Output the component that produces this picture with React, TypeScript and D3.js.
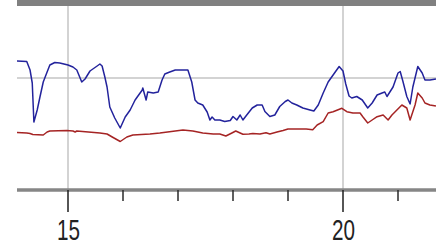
import * as d3 from 'd3';

// Hours on the x axis, readings in arbitrary units (0 = axis line)
const blueTimes = [
  14.07, 14.25, 14.31, 14.35, 14.38, 14.44, 14.49, 14.55, 14.62, 14.67, 14.76, 14.85,
  15.0, 15.09, 15.16, 15.25, 15.31, 15.4, 15.53, 15.58, 15.62, 15.67, 15.71, 15.76,
  15.85, 15.95, 16.04, 16.13, 16.22, 16.35, 16.36, 16.42, 16.45, 16.55, 16.64, 16.71,
  16.76, 16.85, 16.95, 17.18, 17.25, 17.31, 17.36, 17.45, 17.53, 17.58, 17.62, 17.67,
  17.76, 17.85, 17.95, 18.0, 18.07, 18.13, 18.18, 18.25, 18.35, 18.44, 18.53, 18.58,
  18.67, 18.76, 18.85, 18.95, 19.0, 19.07, 19.16, 19.27, 19.4, 19.47, 19.55, 19.64,
  19.73, 19.82, 19.93, 20.0, 20.05, 20.11, 20.16, 20.25, 20.35, 20.45, 20.53, 20.62,
  20.71, 20.76, 20.8, 20.91, 21.0, 21.04, 21.09, 21.16, 21.22, 21.27, 21.36, 21.44,
  21.49, 21.58, 21.69,
];
const blueValues = [
  129, 128.5, 120, 107, 68, 80, 93, 108, 118, 125, 127.5, 127,
  125, 123, 120, 108, 111, 119, 124, 126, 124, 113, 103, 83,
  72, 62, 73, 80, 90, 100, 102, 90, 98, 97, 98, 110,
  116, 118, 120, 120, 108, 90, 87, 85, 78, 70, 73, 70,
  70, 68.5, 69.5, 73.5, 70, 75, 70, 75, 82, 85, 85, 78.5,
  73.5, 75, 83.5, 88.5, 90, 87, 85, 82, 80, 79, 85, 97,
  108, 115, 123.5, 119, 106, 94, 92, 93.5, 90, 82, 87, 95,
  97, 98, 93.5, 103, 117, 118.5, 108.5, 93.5, 86, 103, 123.5, 117,
  110, 110, 111,
];

const redTimes = [
  14.07, 14.25, 14.31, 14.36, 14.55, 14.62, 14.67, 14.98, 15.09, 15.13, 15.16, 15.58,
  15.71, 15.82, 15.95, 16.07, 16.18, 16.49, 16.67, 17.09, 17.27, 17.45, 17.64, 17.76,
  17.87, 17.98, 18.05, 18.18, 18.29, 18.36, 18.49, 18.6, 18.67, 18.8, 18.91, 19.0,
  19.15, 19.33, 19.45, 19.53, 19.64, 19.73, 19.82, 19.98, 20.07, 20.18, 20.31, 20.36,
  20.45, 20.53, 20.62, 20.73, 20.82, 20.89, 20.98, 21.07, 21.16, 21.22, 21.31, 21.36,
  21.44, 21.49, 21.58, 21.69,
];
const redValues = [
  57.5, 57, 56.5, 55.5, 55, 58, 59, 59.5, 59, 58, 59, 57,
  56, 52.5, 48.5, 53, 55, 56, 57, 60, 59, 57, 56, 56,
  54, 57, 59, 55.7, 56, 56.5, 56, 57.3, 56, 58, 59.5, 61,
  61, 61, 60.3, 65, 68.3, 77, 78.3, 81.7, 78.3, 77, 77, 73.3,
  67, 70, 73.3, 75, 70, 75, 80, 85, 82, 70, 85, 97,
  92, 87, 85, 84,
];

const majorTicks = [15, 20];
const minorTicks = [16, 17, 18, 19, 21];
const gridValue = 112;

const W = 436;
const H = 242;

export default function App() {
  const left = 17;
  const top = 6;
  const axisY = 190;

  const x = d3.scaleLinear().domain([15, 20]).range([68, 343]);
  const y = d3.scaleLinear().domain([0, 184]).range([axisY, top]);

  const line = d3.line<[number, number]>()
    .x(d => x(d[0]))
    .y(d => y(d[1]));

  const blue = blueTimes.map((t, i) => [t, blueValues[i]] as [number, number]);
  const red = redTimes.map((t, i) => [t, redValues[i]] as [number, number]);

  return (
    <svg width={W} height={H} style={{ position: 'absolute', left: 0, top: 0, background: '#fff' }}>
      <defs>
        <clipPath id="plot">
          <rect x={left} y={top} width={W - left} height={axisY - top} />
        </clipPath>
      </defs>

      {/* top border bar */}
      <rect x={left} y={0} width={W - left} height={top} fill="#808080" />

      {/* grid */}
      {majorTicks.map(t => (
        <line key={'g' + t} x1={x(t)} x2={x(t)} y1={top} y2={axisY}
          stroke="#c4c4c4" strokeWidth={1.5} />
      ))}
      <line x1={left} x2={W} y1={y(gridValue)} y2={y(gridValue)} stroke="#c4c4c4" strokeWidth={1.5} />

      {/* series */}
      <g clipPath="url(#plot)">
        <path d={line(red) || ''} fill="none" stroke="#a52424" strokeWidth={1.5} strokeLinejoin="round" />
        <path d={line(blue) || ''} fill="none" stroke="#23239c" strokeWidth={1.5} strokeLinejoin="round" />
      </g>

      {/* x axis */}
      <line x1={left} x2={W} y1={axisY} y2={axisY} stroke="#868686" strokeWidth={3.5} />
      {minorTicks.map(t => (
        <line key={'m' + t} x1={x(t)} x2={x(t)} y1={axisY} y2={axisY + 11}
          stroke="#2a2a2a" strokeWidth={1.5} />
      ))}
      {majorTicks.map(t => (
        <g key={'M' + t}>
          <line x1={x(t)} x2={x(t)} y1={axisY} y2={axisY + 22} stroke="#1e1e1e" strokeWidth={1.5} />
          <text x={x(t) + 0.5} y={240} textAnchor="middle" fontFamily="'Liberation Sans', Arial, sans-serif"
            fontSize={29} fill="#222" textLength={23} lengthAdjust="spacingAndGlyphs">
            {t}
          </text>
        </g>
      ))}
    </svg>
  );
}
